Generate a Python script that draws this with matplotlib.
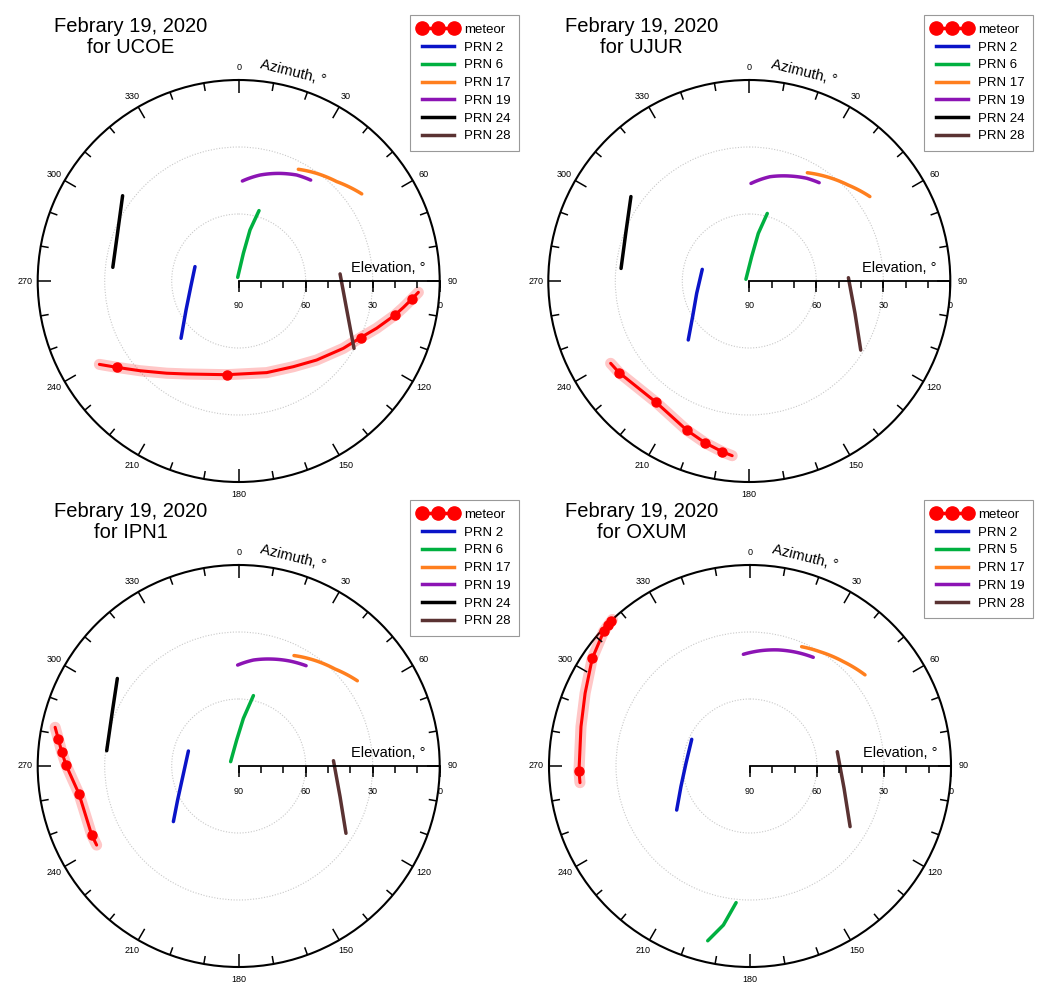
import numpy as np
import matplotlib
matplotlib.use("Agg")
import matplotlib.pyplot as plt
from matplotlib.lines import Line2D, TICKDOWN

plt.rcParams['font.family'] = ['Liberation Sans', 'DejaVu Sans']

DATE = "Febrary 19, 2020"
AZ_TICKS = list(range(0, 360, 30))
AZ_MINOR = list(range(0, 360, 10))
EL_TICKS = [90, 60, 30, 0]
EL_MINOR = list(range(0, 91, 10))
EL_GRID = [60, 30]

# ---------------- UCOE ----------------
UCOE_PRN2_AZ = [288.2, 263.3, 241.2, 225.2]
UCOE_PRN2_EL = [69.4, 68.4, 63.1, 53.6]
UCOE_PRN6_AZ = [344.7, 9.6, 12.5, 16.1]
UCOE_PRN6_EL = [88.3, 77.4, 66.6, 57.2]
UCOE_PRN17_AZ = [28.1, 35.9, 44.6, 54.7]
UCOE_PRN17_EL = [33.3, 30.5, 27.5, 22.5]
UCOE_PRN19_AZ = [2.1, 11.4, 21.0, 28.7, 35.5]
UCOE_PRN19_EL = [45.2, 41.6, 38.4, 35.9, 34.5]
UCOE_PRN24_AZ = [306.3, 292.2, 276.2]
UCOE_PRN24_EL = [25.5, 31.5, 33.3]
UCOE_PRN28_AZ = [86.0, 105.0, 120.3]
UCOE_PRN28_EL = [44.5, 39.9, 30.2]
UCOE_METEOR_AZ = [239.1, 234.7, 227.7, 218.0, 209.2, 187.3, 163.0, 147.5, 135.4,
                  122.8, 114.9, 108.9, 102.3, 99.1, 95.9, 93.6]
UCOE_METEOR_EL = [17.3, 23.1, 30.3, 37.6, 42.3, 47.7, 47.1, 44.5, 40.3,
                  34.3, 29.8, 24.7, 18.4, 15.3, 12.0, 9.4]
UCOE_DOTS_AZ = [234.7, 187.3, 114.9, 102.3, 95.9]
UCOE_DOTS_EL = [23.1, 47.7, 29.8, 18.4, 12.0]

# ---------------- UJUR ----------------
UJUR_PRN2_AZ = [283.9, 256.8, 237.8, 226.0]
UJUR_PRN2_EL = [68.3, 65.8, 60.0, 52.0]
UJUR_PRN6_AZ = [297.0, 5.5, 10.7, 14.9]
UJUR_PRN6_EL = [88.3, 79.1, 68.3, 58.7]
UJUR_PRN17_AZ = [28.2, 36.5, 45.9, 55.0]
UJUR_PRN17_EL = [35.0, 31.9, 28.3, 24.1]
UJUR_PRN19_AZ = [1.0, 11.2, 21.2, 29.2, 35.4]
UJUR_PRN19_EL = [46.3, 42.4, 39.6, 37.3, 36.0]
UJUR_PRN24_AZ = [305.5, 291.5, 275.6]
UJUR_PRN24_EL = [24.9, 30.6, 32.3]
UJUR_PRN28_AZ = [88.1, 107.0, 121.8]
UJUR_PRN28_EL = [45.6, 40.5, 31.3]
UJUR_METEOR_AZ = [239.3, 234.9, 217.6, 202.8, 195.3, 189.0, 185.6]
UJUR_METEOR_EL = [17.8, 18.7, 21.5, 17.6, 14.9, 12.6, 11.4]
UJUR_DOTS_AZ = [234.9, 217.6, 202.8, 195.3, 189.0]
UJUR_DOTS_EL = [18.7, 21.5, 17.6, 14.9, 12.6]

# ---------------- IPN1 ----------------
IPN1_PRN2_AZ = [286.6, 259.2, 240.9, 229.6]
IPN1_PRN2_EL = [66.5, 64.5, 58.7, 51.6]
IPN1_PRN6_AZ = [298.4, 355.6, 5.6, 11.8]
IPN1_PRN6_EL = [85.9, 78.3, 68.6, 57.8]
IPN1_PRN17_AZ = [26.6, 35.2, 44.8, 54.3]
IPN1_PRN17_EL = [34.7, 31.9, 28.8, 24.6]
IPN1_PRN19_AZ = [359.4, 7.9, 17.1, 26.1, 33.9]
IPN1_PRN19_EL = [44.8, 42.1, 39.9, 37.7, 35.9]
IPN1_PRN24_AZ = [305.8, 292.2, 276.6]
IPN1_PRN24_EL = [23.0, 28.7, 30.5]
IPN1_PRN28_AZ = [86.8, 106.8, 122.1]
IPN1_PRN28_EL = [47.5, 42.6, 33.3]
IPN1_METEOR_AZ = [281.9, 278.4, 274.6, 270.3, 260.1, 244.9, 240.9]
IPN1_METEOR_EL = [6.0, 8.4, 10.5, 12.7, 17.4, 17.3, 17.2]
IPN1_DOTS_AZ = [278.4, 274.6, 270.3, 260.1, 244.9]
IPN1_DOTS_EL = [8.4, 10.5, 12.7, 17.4, 17.3]

# ---------------- OXUM ----------------
OXUM_PRN2_AZ = [294.6, 272.4, 253.3, 239.0]
OXUM_PRN2_EL = [61.3, 61.3, 57.7, 51.7]
OXUM_PRN5_AZ = [185.8, 189.5, 193.6]
OXUM_PRN5_EL = [28.5, 17.8, 9.5]
OXUM_PRN17_AZ = [23.4, 31.5, 41.8, 51.6]
OXUM_PRN17_EL = [31.8, 30.0, 27.3, 24.3]
OXUM_PRN19_AZ = [356.6, 5.0, 13.7, 22.3, 30.2]
OXUM_PRN19_EL = [39.9, 38.2, 36.5, 35.0, 33.7]
OXUM_PRN28_AZ = [80.7, 103.4, 121.2]
OXUM_PRN28_EL = [50.4, 46.7, 37.6]
OXUM_METEOR_AZ = [264.4, 268.4, 283.1, 293.8, 304.3, 312.6, 314.9, 316.2, 316.8]
OXUM_METEOR_EL = [13.5, 13.4, 12.3, 9.3, 4.5, 1.0, 0.5, 0.2, 0.0]
OXUM_DOTS_AZ = [268.4, 304.3, 312.6, 314.9, 316.2]
OXUM_DOTS_EL = [13.4, 4.5, 1.0, 0.5, 0.2]

COLORS = {"PRN 2": "#0A14C8", "PRN 5": "#00B040", "PRN 6": "#00B040",
          "PRN 17": "#FF7F1E", "PRN 19": "#8C14B4", "PRN 24": "#000000",
          "PRN 28": "#5A3232"}
ARC_SERIES = {"PRN 17", "PRN 19"}   # tracks drawn as arcs between samples
METEOR_COLOR = "#FF0000"

STATIONS = [
    ("UCOE", (UCOE_METEOR_AZ, UCOE_METEOR_EL, UCOE_DOTS_AZ, UCOE_DOTS_EL),
     [("PRN 2", UCOE_PRN2_AZ, UCOE_PRN2_EL), ("PRN 6", UCOE_PRN6_AZ, UCOE_PRN6_EL),
      ("PRN 17", UCOE_PRN17_AZ, UCOE_PRN17_EL), ("PRN 19", UCOE_PRN19_AZ, UCOE_PRN19_EL),
      ("PRN 24", UCOE_PRN24_AZ, UCOE_PRN24_EL), ("PRN 28", UCOE_PRN28_AZ, UCOE_PRN28_EL)]),
    ("UJUR", (UJUR_METEOR_AZ, UJUR_METEOR_EL, UJUR_DOTS_AZ, UJUR_DOTS_EL),
     [("PRN 2", UJUR_PRN2_AZ, UJUR_PRN2_EL), ("PRN 6", UJUR_PRN6_AZ, UJUR_PRN6_EL),
      ("PRN 17", UJUR_PRN17_AZ, UJUR_PRN17_EL), ("PRN 19", UJUR_PRN19_AZ, UJUR_PRN19_EL),
      ("PRN 24", UJUR_PRN24_AZ, UJUR_PRN24_EL), ("PRN 28", UJUR_PRN28_AZ, UJUR_PRN28_EL)]),
    ("IPN1", (IPN1_METEOR_AZ, IPN1_METEOR_EL, IPN1_DOTS_AZ, IPN1_DOTS_EL),
     [("PRN 2", IPN1_PRN2_AZ, IPN1_PRN2_EL), ("PRN 6", IPN1_PRN6_AZ, IPN1_PRN6_EL),
      ("PRN 17", IPN1_PRN17_AZ, IPN1_PRN17_EL), ("PRN 19", IPN1_PRN19_AZ, IPN1_PRN19_EL),
      ("PRN 24", IPN1_PRN24_AZ, IPN1_PRN24_EL), ("PRN 28", IPN1_PRN28_AZ, IPN1_PRN28_EL)]),
    ("OXUM", (OXUM_METEOR_AZ, OXUM_METEOR_EL, OXUM_DOTS_AZ, OXUM_DOTS_EL),
     [("PRN 2", OXUM_PRN2_AZ, OXUM_PRN2_EL), ("PRN 5", OXUM_PRN5_AZ, OXUM_PRN5_EL),
      ("PRN 17", OXUM_PRN17_AZ, OXUM_PRN17_EL), ("PRN 19", OXUM_PRN19_AZ, OXUM_PRN19_EL),
      ("PRN 28", OXUM_PRN28_AZ, OXUM_PRN28_EL)]),
]

W, H = 1038, 983
fig = plt.figure(figsize=(W / 100, H / 100), dpi=100)
fig.patch.set_facecolor("white")

R = 201
CENTERS = [(238.7, 281), (749.3, 281), (238.7, 766), (750, 766)]
TITLE_POS = [(131, 37), (641.7, 37), (131, 522), (641.7, 522)]
LEGEND_TR = [(519, 15), (1033, 15), (519, 500), (1033, 500)]


def th(az):
    return np.unwrap(np.radians(np.asarray(az, dtype=float)))


def smooth(lines, steps=30):
    # draw (theta, r) segments as arcs in the polar projection
    for ln in lines:
        ln.get_path()._interpolation_steps = steps


for (name, met, sats), (cx, cy), (tx, ty), (lx, ly) in zip(STATIONS, CENTERS, TITLE_POS, LEGEND_TR):
    ax = fig.add_axes([(cx - R) / W, (H - cy - R) / H, 2 * R / W, 2 * R / H],
                      projection="polar")
    ax.set_theta_zero_location("N")
    ax.set_theta_direction(-1)
    ax.set_ylim(90, 0)
    ax.set_yticks(EL_GRID)
    ax.set_yticklabels([])
    ax.tick_params(axis="y", length=0)
    ax.yaxis.grid(True, color="#c8c8c8", linestyle=(0, (1, 1.5)), linewidth=0.8)
    ax.xaxis.grid(False)
    ax.set_xticks(np.radians(AZ_TICKS))
    ax.set_xticklabels([str(a) for a in AZ_TICKS])
    ax.tick_params(axis="x", which="major", length=0, labelsize=6.5, pad=2)
    ax.spines["polar"].set_linewidth(1.5)
    ax.set_facecolor("none")

    # azimuth tick marks pointing inward from the rim
    for a in AZ_MINOR:
        tl = 5.8 if a % 30 == 0 else 3.6
        ax.plot([np.radians(a)] * 2, [0, tl], color="black", lw=1.1, zorder=5,
                solid_capstyle="butt")

    # meteor
    maz, mel, daz, del_ = met
    t = th(maz)
    ax.plot(t, mel, color=METEOR_COLOR, lw=8, alpha=0.22, solid_capstyle="round",
            solid_joinstyle="round", clip_on=False, zorder=3)
    ax.plot(t, mel, color=METEOR_COLOR, lw=2.2, solid_capstyle="round",
            solid_joinstyle="round", clip_on=False, zorder=3)
    ax.plot(np.radians(daz), del_, ls="none", marker="o", ms=6.5, color=METEOR_COLOR,
            clip_on=False, zorder=3)

    handles = [Line2D([], [], color=METEOR_COLOR, lw=2.5, marker="o", ms=9.5)]
    labels = ["meteor"]
    for lab, az, el in sats:
        ln = ax.plot(th(az), el, color=COLORS[lab], lw=2.5, solid_capstyle="round",
                     solid_joinstyle="round", zorder=4)
        if lab in ARC_SERIES:
            smooth(ln)
        handles.append(Line2D([], [], color=COLORS[lab], lw=2.5))
        labels.append(lab)

    # elevation axis
    ax.plot([np.pi / 2, np.pi / 2], [90, 0], color="black", lw=1.3, clip_on=False, zorder=5)
    ax.plot([np.pi / 2] * len(EL_MINOR), EL_MINOR, ls="none", marker=TICKDOWN, ms=5,
            mew=1.1, color="black", clip_on=False, zorder=5)
    ax.plot([np.pi / 2] * len(EL_TICKS), EL_TICKS, ls="none", marker=TICKDOWN, ms=8,
            mew=1.1, color="black", clip_on=False, zorder=5)
    for e in EL_TICKS:
        ax.annotate(str(e), xy=(np.pi / 2, e), xytext=(0, -18), textcoords="offset points",
                    ha="center", va="center", fontsize=6.5, annotation_clip=False)
    ax.annotate("Elevation, °", xy=(np.pi / 2, 0), xytext=(-10, 9.5),
                textcoords="offset points", ha="right", va="center", fontsize=10.5,
                annotation_clip=False)
    ang = np.radians(14.7)
    ax.text(0.5 + 0.5 * 1.073 * np.sin(ang), 0.5 + 0.5 * 1.073 * np.cos(ang),
            "Azimuth, °", transform=ax.transAxes, rotation=-14, rotation_mode="anchor",
            ha="center", va="center", fontsize=10.5)

    fig.text(tx / W, 1 - ty / H, f"{DATE}\nfor {name}", ha="center", va="center",
             fontsize=14.5, linespacing=1.15)

    leg = fig.legend(handles, labels, loc="upper right",
                     bbox_to_anchor=(lx / W, 1 - ly / H), borderaxespad=0,
                     fontsize=9.5, numpoints=3, labelspacing=0.42, handlelength=3.0,
                     handletextpad=0.45, borderpad=0.65, fancybox=False,
                     framealpha=1, edgecolor="#999999")
    leg.get_frame().set_linewidth(0.8)

fig.savefig("out.png", dpi=100, facecolor="white")
